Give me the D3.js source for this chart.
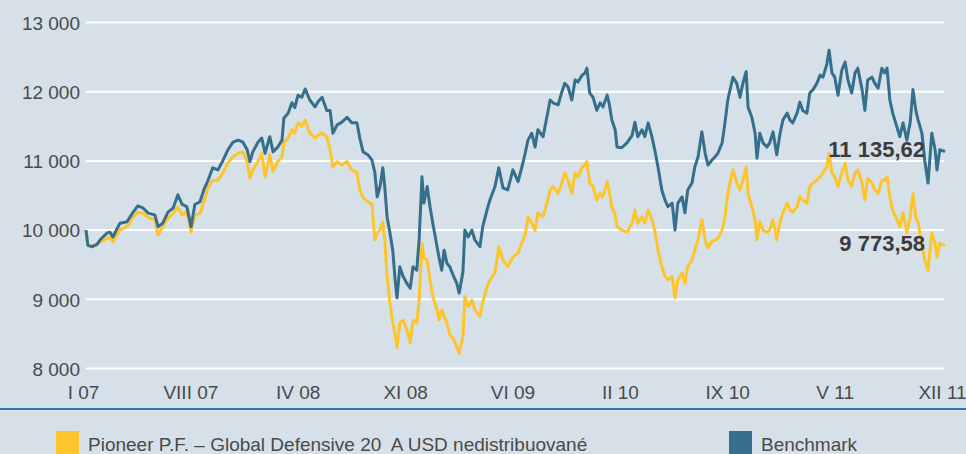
<!DOCTYPE html>
<html>
<head>
<meta charset="utf-8">
<script src="https://cdn.jsdelivr.net/npm/d3@7"></script>
<style>
  html, body { margin: 0; padding: 0; background: #d6e0e8; }
  svg { display: block; }
  text { font-family: "Liberation Sans", Arial, sans-serif; }
</style>
</head>
<body>
<script>
// ---------- DATA ----------
const startDate = "2007-01-02";
const endDate = "2011-12-30";

// day offsets from startDate for each observation
const dayOffsets = [
  0,4,13,23,30,45,51,57,72,87,100,110,121,132,146,153,163,174,185,195,204,214,223,231,242,250,259,269,280,291,301,312,323,333,342,348,354,365,373,380,390,397,407,416,420,429,437,443,450,
  458,465,475,486,492,501,511,518,524,533,543,554,564,575,581,588,598,607,613,618,624,630,634,639,645,651,656,660,666,673,681,688,694,702,707,713,717,724,730,736,745,749,755,760,766,772,779,787,792,800,804,811,819,825,836,842,851,857,868,876,885,895,906,917,
  925,932,938,946,953,959,970,978,985,991,1002,1010,1016,1023,1031,1038,1044,1053,1059,1063,1069,1076,1084,1091,1097,1106,1110,1116,1123,1127,1137,1148,1159,1165,1171,1180,1186,1193,1201,1207,1214,1222,1229,1235,1244,1250,1256,1265,1271,1277,1286,1292,1299,1307,1314,1320,1328,1335,1341,1350,1356,1362,
  1373,1381,1388,1394,1401,1405,1413,1420,1424,1430,1437,1445,1451,1458,1466,1473,1479,1488,1494,1500,1509,1515,1521,1530,1536,1543,1551,1558,1564,1572,1577,1583,1589,1596,1604,1611,1617,1625,1632,1638,1647,1653,1659,1668,1674,1681,1689,1695,1700,1706,1712,1721,1727,1734,1742,1749,1755,1761,1766,1774,1780,1787,1795,1802,1806,1812,1823
];

const benchmark = [
  10000,9780,9760,9790,9860,9960,9970,9900,10100,10120,10260,10350,10320,10245,10220,10050,10100,10260,10320,10510,10370,10340,10050,10370,10410,10580,10720,10900,10870,11010,11160,11270,11300,11270,11160,10990,11130,11270,11330,11110,11350,11130,11200,11300,11620,11690,11840,11770,11950,
  11920,12040,11880,11780,11850,11920,11730,11730,11400,11520,11560,11630,11550,11550,11330,11130,11090,11010,10830,10480,10630,10900,10630,10190,9960,9710,9280,9020,9470,9330,9230,9160,9470,9420,9860,10770,10390,10630,10340,10100,9760,9610,9420,9710,9520,9470,9350,9230,9090,9400,10000,9900,10000,9860,9760,10050,10290,10430,10630,10900,10610,10580,10870,10700,
  10910,11110,11300,11400,11200,11450,11350,11630,11880,11840,11810,12000,12120,12070,11880,12170,12140,12240,12270,12340,11980,11920,11730,11840,11780,11950,11840,11590,11450,11200,11190,11260,11370,11560,11350,11450,11350,11550,11350,11160,10910,10580,10430,10340,10390,10000,10390,10480,10250,10580,10680,10910,11060,11420,11110,10940,11010,11060,11110,11260,11550,11880,
  12210,12120,11920,12120,12290,11780,11630,11400,11040,11400,11260,11200,11260,11420,11090,11400,11590,11690,11590,11550,11690,11850,11730,11690,11980,12030,12120,12240,12210,12390,12600,12270,12210,11950,12310,12430,12170,11980,12270,12340,12030,11730,12170,12210,12120,12050,12340,12270,12340,11880,11690,11490,11350,11550,11300,11550,12030,11730,11590,11400,11010,10680,11400,11160,10870,11160,11135.62
];

const fund = [
  9990,9790,9770,9800,9830,9880,9900,9830,10000,10050,10190,10260,10240,10180,10150,9930,10050,10170,10240,10330,10220,10260,9970,10220,10240,10410,10610,10720,10720,10830,10970,11060,11110,11130,10990,10750,10870,10990,11110,10770,11090,10850,10990,11060,11270,11330,11450,11400,11550,
  11500,11590,11400,11330,11370,11400,11350,11160,10910,10990,10940,10990,10870,10830,10580,10470,10410,10370,9860,9960,10000,10120,9860,9330,8950,8660,8500,8300,8660,8700,8560,8370,8700,8660,8990,9810,9600,9570,9280,9040,8850,8700,8850,8750,8660,8490,8440,8310,8220,8460,9040,8890,8990,8850,8750,8950,9180,9280,9380,9760,9570,9470,9610,9670,
  9810,9930,10190,10100,10000,10250,10190,10390,10580,10630,10530,10680,10830,10720,10530,10830,10770,10910,10940,10990,10680,10630,10430,10530,10480,10700,10580,10340,10220,10050,10000,9970,10100,10290,10100,10190,10100,10290,10150,10000,9710,9470,9330,9280,9330,9020,9280,9380,9230,9470,9570,9710,9860,10150,9860,9740,9830,9860,9880,10000,10190,10530,
  10870,10680,10580,10720,10910,10530,10340,10150,9860,10120,10000,9970,10000,10150,9860,10120,10250,10390,10290,10260,10340,10480,10430,10390,10630,10680,10720,10770,10830,10910,11110,10830,10770,10630,10830,10970,10720,10630,10830,10870,10680,10430,10750,10680,10580,10530,10720,10720,10770,10480,10290,10150,10050,10250,9960,10190,10530,10190,10100,9810,9570,9420,9960,9810,9610,9810,9773.58
];

const yTicks = [8000, 9000, 10000, 11000, 12000, 13000];
const xTickLabels = ["I 07", "VIII 07", "IV 08", "XI 08", "VI 09", "II 10", "IX 10", "V 11", "XII 11"];
const seriesNames = ["Pioneer P.F. \u2013 Global Defensive 20  A USD nedistribuované", "Benchmark"];
const seriesColors = ["#fdc52c", "#366f8c"];

// ---------- CHART ----------
const W = 966, H = 454;
const parse = d3.timeParse("%Y-%m-%d");
const t0 = parse(startDate), t1 = parse(endDate);
const dates = dayOffsets.map(d => d3.timeDay.offset(t0, d));

const loc = d3.formatLocale({decimal: ",", thousands: " ", grouping: [3], currency: ["", ""]});
const fmtInt = loc.format(",d");
const fmt2 = loc.format(",.2f");

const svg = d3.select("body").append("svg").attr("width", W).attr("height", H);
svg.append("rect").attr("width", W).attr("height", H).attr("fill", "#d6e0e8");

const x = d3.scaleTime().domain([t0, t1]).range([86, 945]);
const y = d3.scaleLinear().domain([8000, 13000]).range([368.5, 22.5]);

// gridlines
svg.append("g").selectAll("line").data(yTicks).join("line")
  .attr("x1", 86).attr("x2", 944)
  .attr("y1", d => y(d)).attr("y2", d => y(d))
  .attr("stroke", "#ffffff").attr("stroke-width", 2);

// y labels
const yAxis = svg.append("g").attr("transform", "translate(80,0)")
  .call(d3.axisLeft(y).tickValues(yTicks).tickSize(0).tickPadding(0).tickFormat(d => fmtInt(d)));
yAxis.select(".domain").remove();
yAxis.selectAll("text").attr("font-size", 19).attr("fill", "#4a4a4a")
  .attr("font-family", "Liberation Sans, Arial, sans-serif").attr("dy", "0.36em");

// x labels (evenly spaced along the period)
const tickDates = xTickLabels.map((_, i) => new Date(+t0 + (t1 - t0) * i / (xTickLabels.length - 1)));
const xAxis = svg.append("g").attr("transform", "translate(-3,378)")
  .call(d3.axisBottom(x).tickValues(tickDates).tickSize(0).tickPadding(0).tickFormat((d, i) => xTickLabels[i]));
xAxis.select(".domain").remove();
xAxis.selectAll("text").attr("font-size", 19).attr("fill", "#4a4a4a")
  .attr("font-family", "Liberation Sans, Arial, sans-serif").attr("dy", "1.1em");

// blue baseline rule
svg.append("line").attr("x1", 0).attr("x2", W).attr("y1", 409).attr("y2", 409)
  .attr("stroke", "#2f78b4").attr("stroke-width", 2);

// lines
const line = d3.line().x((d, i) => x(dates[i])).y(d => y(d));
svg.append("path").datum(fund).attr("d", line)
  .attr("fill", "none").attr("stroke", seriesColors[0]).attr("stroke-width", 3).attr("stroke-linejoin", "round");
svg.append("path").datum(benchmark).attr("d", line)
  .attr("fill", "none").attr("stroke", seriesColors[1]).attr("stroke-width", 3).attr("stroke-linejoin", "round");

// end labels
const ends = [benchmark[benchmark.length - 1], fund[fund.length - 1]];
svg.append("g").selectAll("text").data(ends).join("text")
  .attr("x", 925).attr("y", d => y(d) + 5)
  .attr("text-anchor", "end").attr("font-size", 22).attr("font-weight", "bold")
  .attr("fill", "#3b3b3b").text(d => fmt2(d));

// legend
const legX = [56, 729];
const lg = svg.append("g").selectAll("g").data(seriesNames).join("g")
  .attr("transform", (d, i) => `translate(${legX[i]},431)`);
lg.append("rect").attr("width", 23).attr("height", 23).attr("fill", (d, i) => seriesColors[i]);
lg.append("text").attr("x", 32).attr("y", 20).attr("font-size", 19).attr("fill", "#4a4a4a")
  .style("white-space", "pre").text(d => d);
</script>
</body>
</html>
